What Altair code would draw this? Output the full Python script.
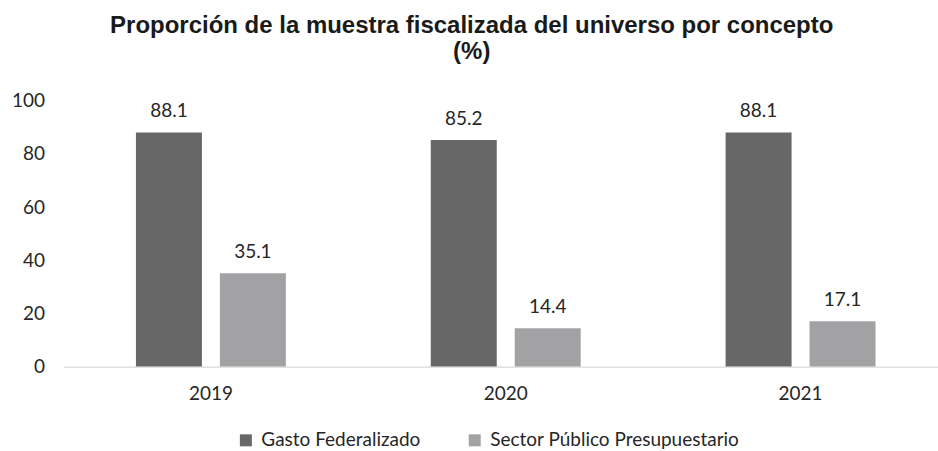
import altair as alt
import pandas as pd

# Source values (percent of universe audited)
years = ["2019", "2020", "2021"]
gasto_federalizado = [88.1, 85.2, 88.1]
sector_publico = [35.1, 14.4, 17.1]
series = ["Gasto Federalizado", "Sector Público Presupuestario"]
colors = ["#676767", "#a2a2a4"]
y_ticks = [0, 20, 40, 60, 80, 100]
title_lines = ["Proporción de la muestra fiscalizada del universo por concepto", "(%)"]

rows = []
for i, yr in enumerate(years):
    rows.append({"anio": yr, "concepto": series[0], "valor": gasto_federalizado[i]})
    rows.append({"anio": yr, "concepto": series[1], "valor": sector_publico[i]})
df = pd.DataFrame(rows)

label_font = "Lato"
text_color = "#262626"

x_enc = alt.X(
    "anio:N",
    sort=years,
    title=None,
    scale=alt.Scale(range=[0, 885], paddingInner=0.4915, paddingOuter=0.2458),
    axis=alt.Axis(
        labelAngle=0,
        ticks=False,
        domainColor="#d0d0d0",
        domainWidth=1,
        labelPadding=18,
        labelFont=label_font,
        labelFontSize=19,
        labelColor=text_color,
    ),
)
xoff_enc = alt.XOffset(
    "concepto:N", sort=series, scale=alt.Scale(paddingInner=0.214, paddingOuter=0)
)
y_enc = alt.Y(
    "valor:Q",
    title=None,
    scale=alt.Scale(domain=[0, 100]),
    axis=alt.Axis(
        values=y_ticks,
        grid=False,
        domain=False,
        ticks=False,
        labelPadding=19,
        labelFont=label_font,
        labelFontSize=19,
        labelColor=text_color,
    ),
)
color_enc = alt.Color(
    "concepto:N",
    sort=series,
    scale=alt.Scale(domain=series, range=colors),
    legend=alt.Legend(
        orient="none",
        legendX=173,
        legendY=330,
        direction="horizontal",
        title=None,
        symbolType="square",
        symbolSize=144,
        symbolStrokeWidth=0,
        labelFont=label_font,
        labelFontSize=19,
        labelColor=text_color,
        labelOffset=6,
        labelLimit=400,
        columnPadding=44,
    ),
)

base = alt.Chart(df).encode(x=x_enc, xOffset=xoff_enc, y=y_enc)

bars = base.mark_bar(stroke=None).encode(color=color_enc)
labels = base.mark_text(
    dy=-15, baseline="alphabetic", font=label_font, fontSize=19, color=text_color
).encode(text=alt.Text("valor:Q", format=".1f"))

chart = (
    alt.layer(bars, labels)
    .properties(
        width=875,
        height=266,
        autosize=alt.AutoSizeParams(type="none"),
        padding={"left": 63.5, "top": 100.7, "right": 0, "bottom": 84.3},
        title=alt.TitleParams(
            title_lines,
            font="Liberation Sans",
            fontSize=24,
            fontWeight="bold",
            color="#1a1a1a",
            anchor="middle",
            frame="group",
            lineHeight=26,
            offset=28,
            dx=-29,
        ),
        background="white",
    )
    .configure_view(stroke=None)
)

chart.save("out.html", embed_options={"renderer": "svg", "actions": False})
